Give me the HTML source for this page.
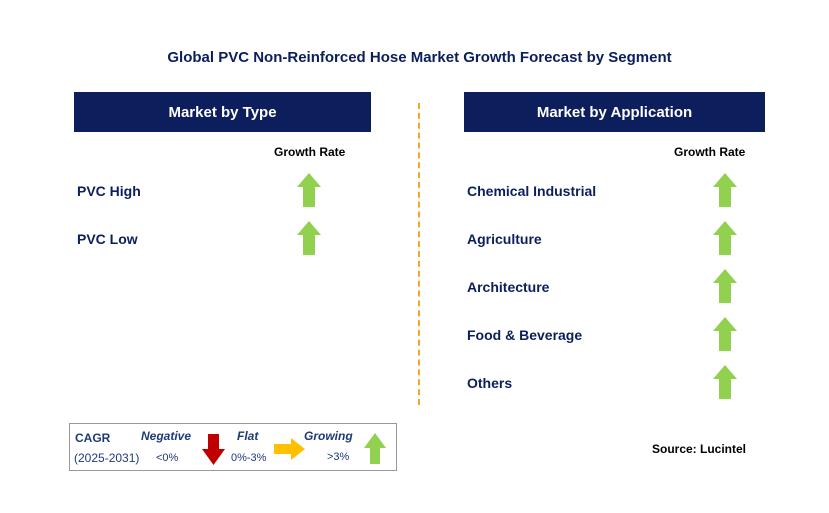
<!DOCTYPE html>
<html><head><meta charset="utf-8"><style>
body{margin:0;width:829px;height:513px;background:#fff;position:relative;overflow:hidden;font-family:"Liberation Sans",sans-serif}
.a{position:absolute}
.hdr{position:absolute;background:#0c1f5c;color:#fff;font-weight:bold;font-size:15px;text-align:center;line-height:42px;height:40px;top:92px}
.lbl{position:absolute;font-weight:bold;font-size:14px;color:#0c1f5c}
.gr{position:absolute;font-weight:bold;font-size:12px;color:#000}
.arr{position:absolute}
.lg{position:absolute;font-size:11px;color:#1f3a7a}
</style></head><body>
<div class="a" style="left:0;width:839px;top:49px;text-align:center;font-weight:bold;font-size:15px;color:#0c1f5c">Global PVC Non-Reinforced Hose Market Growth Forecast by Segment</div>
<div class="hdr" style="left:74px;width:297px">Market by Type</div>
<div class="hdr" style="left:464px;width:301px">Market by Application</div>
<div class="a" style="left:418px;top:103px;height:302px;border-left:2px dashed #f5a623"></div>
<div class="gr" style="left:274px;top:145px">Growth Rate</div>
<div class="gr" style="left:674px;top:145px">Growth Rate</div>
<div id="rows"></div>
<div class="a" style="left:69px;top:423px;width:326px;height:46px;border:1px solid #999"></div>
<div class="lg" style="left:75px;top:431px;font-weight:bold;font-size:12px">CAGR</div>
<div class="lg" style="left:74px;top:451px;font-size:12px">(2025-2031)</div>
<div class="lg" style="left:141px;top:429px;font-weight:bold;font-style:italic;font-size:12px">Negative</div>
<div class="lg" style="left:156px;top:452px">&lt;0%</div>
<div class="lg" style="left:237px;top:429px;font-weight:bold;font-style:italic;font-size:12px">Flat</div>
<div class="lg" style="left:231px;top:452px">0%-3%</div>
<div class="lg" style="left:304px;top:429px;font-weight:bold;font-style:italic;font-size:12px">Growing</div>
<div class="lg" style="left:327px;top:451px">&gt;3%</div>
<svg class="a" style="left:0;top:0" width="829" height="513">
<polygon points="208,434 219,434 219,449 225,449 213.5,465 202,449 208,449" fill="#c00000"/>
<polygon points="274,444 291,444 291,438 305,449 291,460 291,454 274,454" fill="#ffc000"/>
<polygon points="375,433 386,448 380,448 380,464 370,464 370,448 364,448" fill="#92d050"/>
</svg>
<div class="a" style="left:652px;top:442px;font-weight:bold;font-size:12px;color:#000">Source: Lucintel</div>
<script>
const typeLabels=["PVC High","PVC Low"];
const appLabels=["Chemical Industrial","Agriculture","Architecture","Food & Beverage","Others"];
const r=document.getElementById('rows');
function add(list,lx,ax,pre){
list.forEach((t,i)=>{
const y=190+i*48;
const d=document.createElement('div');d.className='lbl';d.style.left=lx+'px';d.style.top=(y-7)+'px';d.textContent=t;


r.appendChild(d);
const s=document.createElementNS('http://www.w3.org/2000/svg','svg');
s.setAttribute('class','arr');s.setAttribute('width','26');s.setAttribute('height','34');
s.style.left=(ax-13)+'px';s.style.top=(y-17)+'px';
s.innerHTML='<polygon points="13,0 25,14 19,14 19,34 7,34 7,14 1,14" fill="#92d050"/>';


r.appendChild(s);
});}
add(typeLabels,77,309,'type');
add(appLabels,467,725,'application');
</script>
</body></html>
